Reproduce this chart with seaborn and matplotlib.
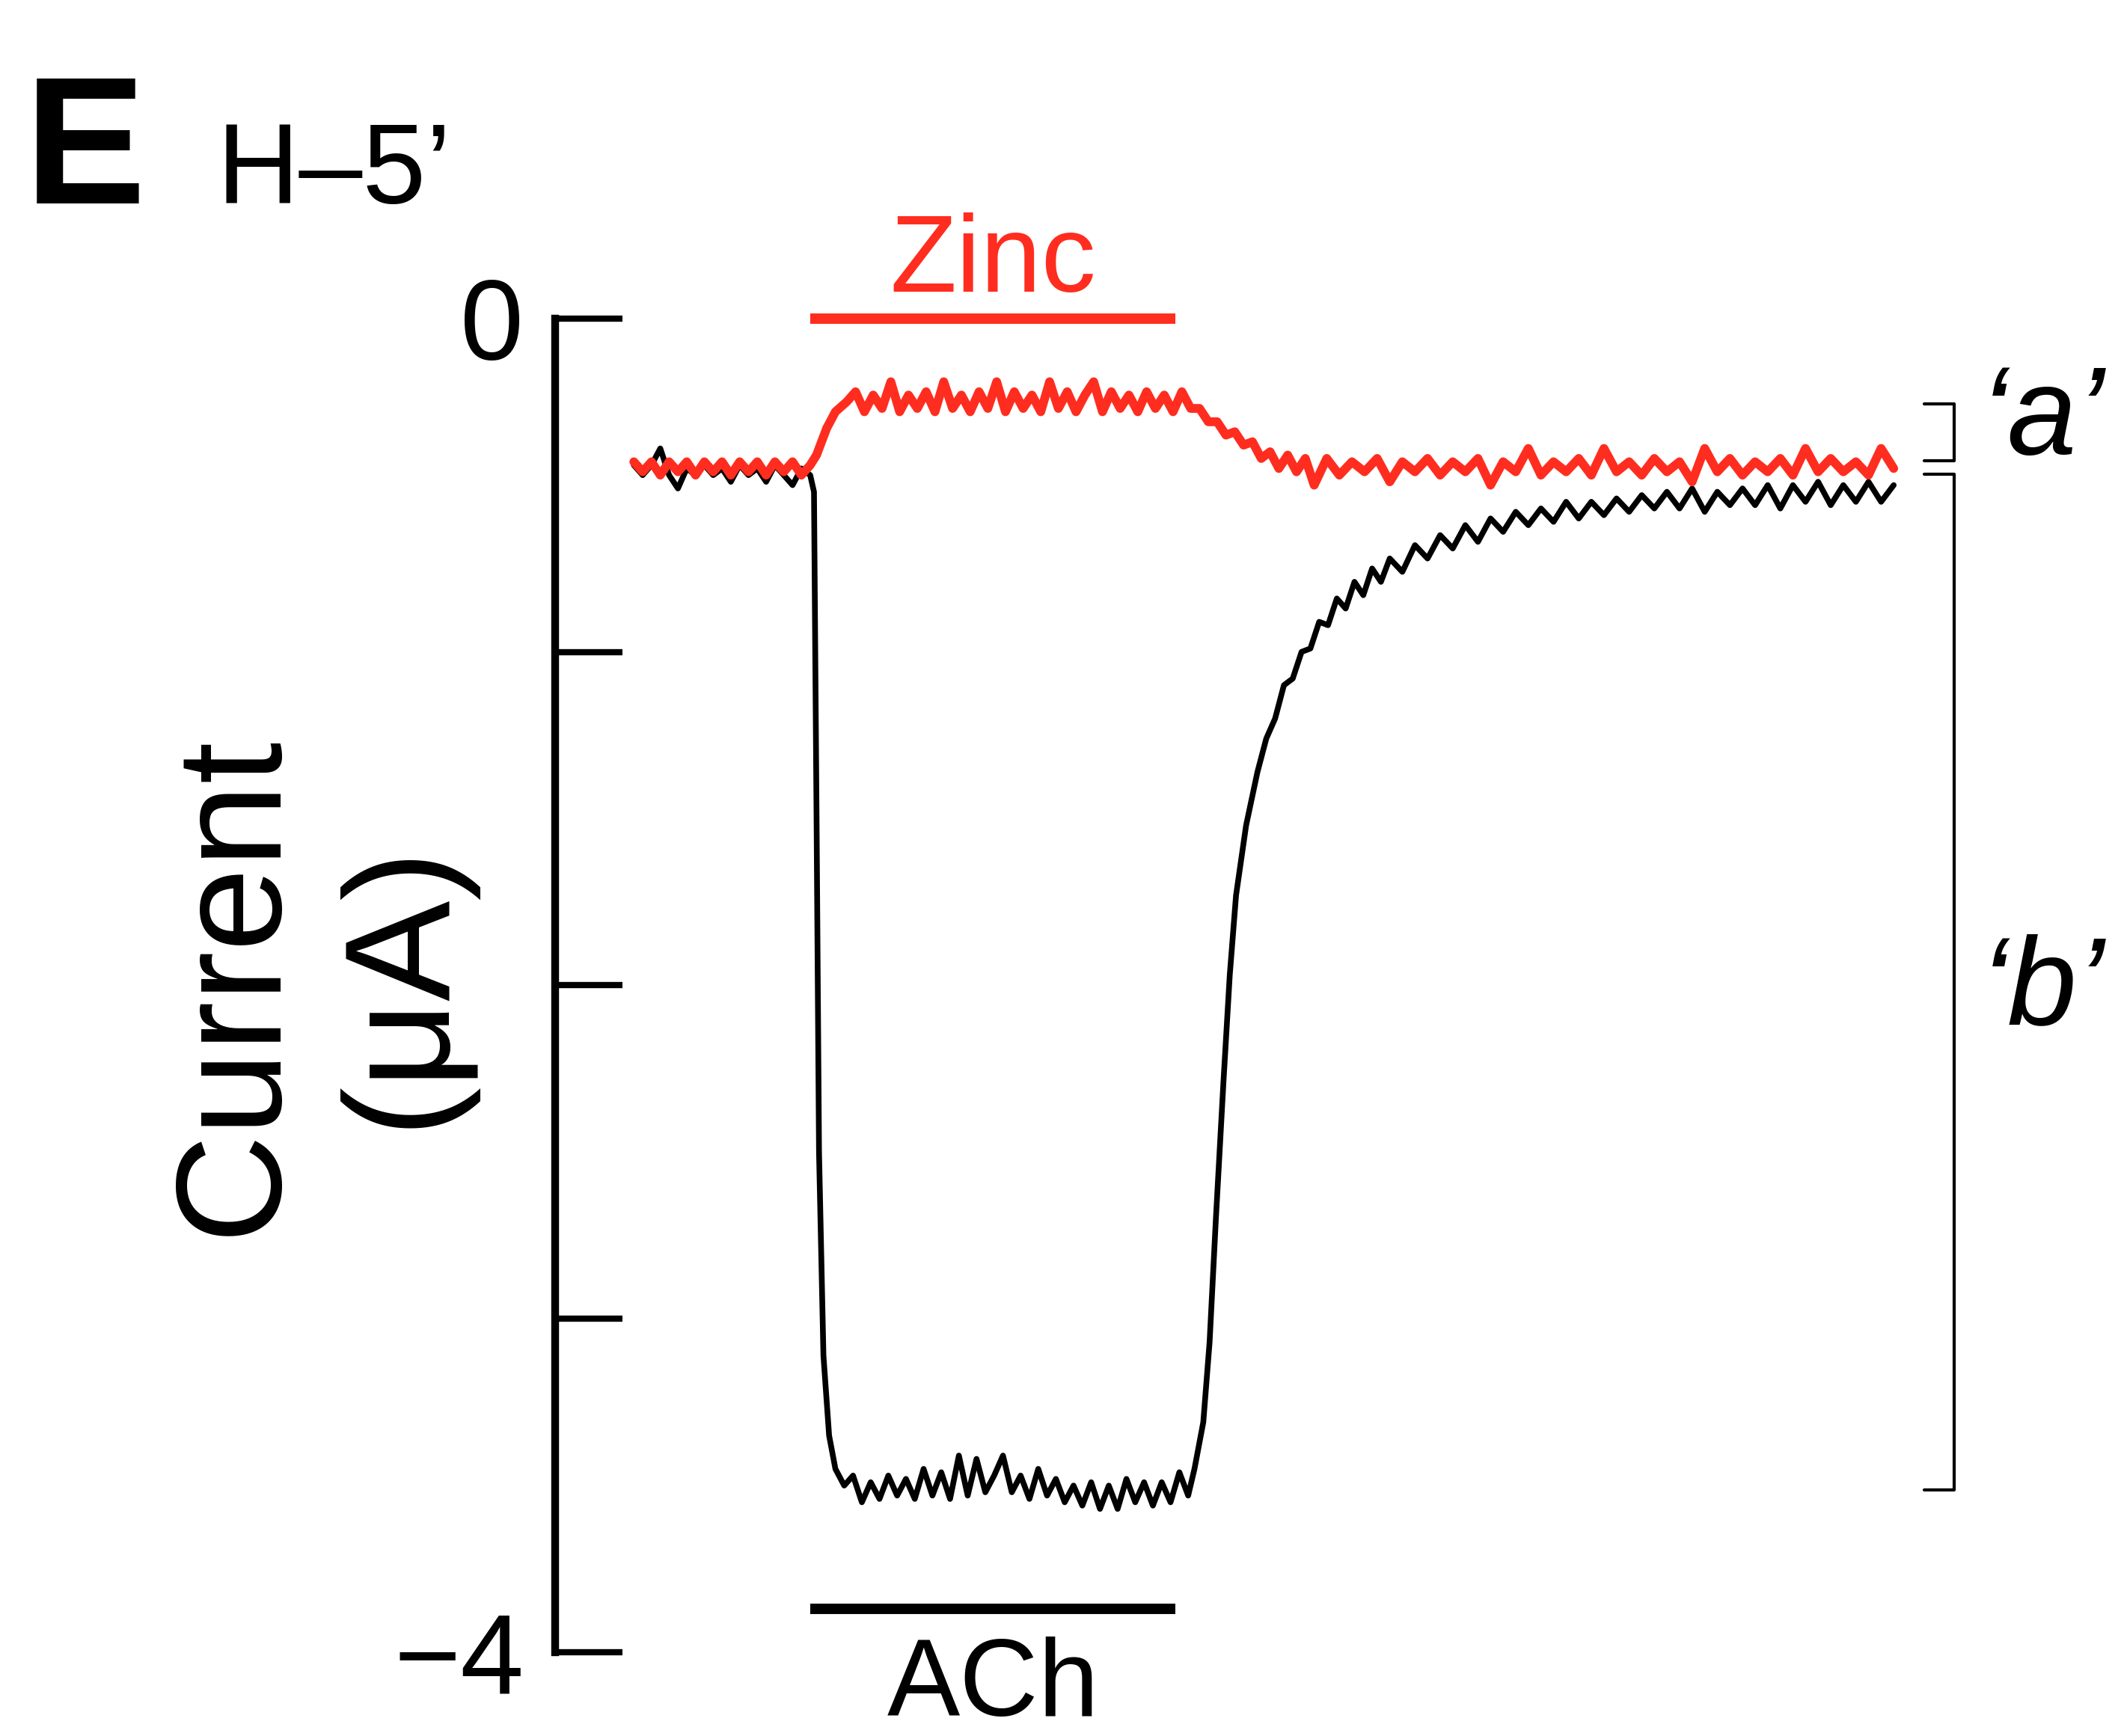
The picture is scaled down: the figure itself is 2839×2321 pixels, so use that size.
import matplotlib
matplotlib.use("Agg")
import matplotlib.pyplot as plt
import seaborn as sns

# ACh alone (black) and ACh + zinc (red), time in s, current in uA
ach_t = [0.0, 0.7, 1.4, 2.1, 2.8, 3.5, 4.2, 4.9, 5.6, 6.3, 7.0, 7.7, 8.4, 9.1, 9.8,
         10.5, 11.2, 11.9, 12.6, 13.3, 14.0,
         14.3, 14.5, 14.7, 15.05, 15.5, 16.0, 16.7,
         17.4, 18.1, 18.8, 19.5, 20.2, 20.9, 21.6, 22.3, 23.0, 23.7, 24.4, 25.1, 25.8,
         26.5, 27.2, 27.9, 28.6, 29.3, 30.0, 30.7, 31.4, 32.1, 32.8, 33.5, 34.2, 34.9,
         35.6, 36.3, 37.0, 37.7, 38.4, 39.1, 39.8, 40.5, 41.2, 41.9, 42.6, 43.3, 44.0,
         44.5, 45.2, 45.7, 46.2, 46.8, 47.3, 47.8, 48.6,
         49.5, 50.2, 50.9, 51.6, 52.3, 53.0, 53.7, 54.4, 55.1, 55.8, 56.5, 57.2, 57.9,
         58.6, 59.3, 60.0, 61, 62, 63, 64, 65, 66, 67, 68, 69, 70, 71, 72, 73, 74,
         75, 76, 77, 78, 79, 80, 81, 82, 83, 84, 85, 86, 87, 88, 89, 90, 91, 92, 93, 94,
         95, 96, 97, 98, 99, 100]
ach_i = [-0.44, -0.47, -0.44, -0.39, -0.47, -0.51, -0.45, -0.47, -0.44, -0.47, -0.45,
         -0.49, -0.44, -0.47, -0.45, -0.49, -0.44, -0.47, -0.50, -0.45, -0.47,
         -0.52, -1.48, -2.50, -3.11, -3.35, -3.45, -3.50,
         -3.47, -3.55, -3.49, -3.54, -3.47, -3.53, -3.48, -3.54, -3.45, -3.53, -3.46,
         -3.54, -3.41, -3.53, -3.42, -3.52, -3.47, -3.41, -3.52, -3.47, -3.54, -3.45,
         -3.53, -3.48, -3.55, -3.50, -3.56, -3.49, -3.57, -3.50, -3.57, -3.48, -3.55,
         -3.49, -3.56, -3.49, -3.55, -3.46, -3.53,
         -3.45, -3.31, -3.07, -2.70, -2.29, -1.97, -1.73, -1.52,
         -1.36, -1.26, -1.20, -1.10, -1.08, -1.00, -0.99, -0.91, -0.92, -0.84, -0.87,
         -0.79, -0.83, -0.75, -0.79, -0.72,
         -0.76, -0.68, -0.72, -0.65, -0.69, -0.62, -0.67, -0.60, -0.64, -0.58,
         -0.62, -0.57, -0.61, -0.55, -0.60, -0.55, -0.59, -0.54, -0.58, -0.53,
         -0.57, -0.52, -0.57, -0.51, -0.58, -0.52, -0.56, -0.51, -0.56, -0.50,
         -0.57, -0.50, -0.55, -0.49, -0.56, -0.50, -0.55, -0.49, -0.55, -0.50]

zn_t = [0.0, 0.7, 1.4, 2.1, 2.8, 3.5, 4.2, 4.9, 5.6, 6.3, 7.0, 7.7, 8.4, 9.1, 9.8,
        10.5, 11.2, 11.9, 12.6, 13.3, 14.0,
        14.5, 15.3, 16.0, 16.9,
        17.6, 18.3, 19.0, 19.7, 20.4, 21.1, 21.8, 22.5, 23.2, 23.9, 24.6, 25.3, 26.0,
        26.7, 27.4, 28.1, 28.8, 29.5, 30.2, 30.9, 31.6, 32.3, 33.0, 33.7, 34.4, 35.1,
        35.8, 36.5, 37.2, 37.9, 38.6, 39.3, 40.0, 40.7, 41.4, 42.1, 42.8, 43.5,
        44.2, 44.9, 45.6, 46.3, 47.0, 47.7, 48.4, 49.1, 49.8, 50.5, 51.2, 51.9, 52.6,
        53.3, 54.0, 55, 56, 57, 58, 59, 60, 61, 62, 63, 64, 65, 66, 67, 68, 69, 70, 71,
        72, 73, 74, 75, 76, 77, 78, 79, 80, 81, 82, 83, 84, 85, 86, 87, 88, 89, 90, 91,
        92, 93, 94, 95, 96, 97, 98, 99, 100]
zn_i = [-0.43, -0.46, -0.43, -0.47, -0.43, -0.46, -0.43, -0.47, -0.43, -0.46, -0.43,
        -0.47, -0.43, -0.46, -0.43, -0.47, -0.43, -0.46, -0.43, -0.47, -0.44,
        -0.41, -0.33, -0.28, -0.25,
        -0.22, -0.28, -0.23, -0.27, -0.19, -0.28, -0.23, -0.27, -0.22, -0.28, -0.19,
        -0.27, -0.23, -0.28, -0.22, -0.27, -0.19, -0.28, -0.22, -0.27, -0.23, -0.28,
        -0.19, -0.27, -0.22, -0.28, -0.23, -0.19, -0.28, -0.22, -0.27, -0.23, -0.28,
        -0.22, -0.27, -0.23, -0.28, -0.22,
        -0.27, -0.27, -0.31, -0.31, -0.35, -0.34, -0.38, -0.37, -0.42, -0.40, -0.45,
        -0.41, -0.46, -0.42, -0.50, -0.42, -0.47, -0.43, -0.46, -0.42, -0.49, -0.43,
        -0.46, -0.42, -0.47, -0.43, -0.46, -0.42, -0.50, -0.43, -0.46, -0.39, -0.47,
        -0.43, -0.46, -0.42, -0.47, -0.39, -0.46, -0.43, -0.47, -0.42, -0.46, -0.43,
        -0.49, -0.39, -0.46, -0.42, -0.47, -0.43, -0.46, -0.42, -0.47, -0.39, -0.46,
        -0.42, -0.46, -0.43, -0.47, -0.39, -0.45]

drug_on, drug_off = 14.0, 43.0
zinc_bar_i, ach_bar_i = 0.0, -3.87
bracket_a = (-0.256, -0.426)
bracket_b = (-0.467, -3.513)
ytick_vals = [0, -1, -2, -3, -4]
ytick_text = ["0", "", "", "", "\u22124"]

sns.set_theme(style="white")
plt.rcParams["font.family"] = ["Liberation Sans", "DejaVu Sans"]
plt.rcParams["text.color"] = "black"
plt.rcParams["ytick.color"] = "black"
plt.rcParams["ytick.labelcolor"] = "black"

fig = plt.figure(figsize=(28.39, 23.21), dpi=100)
ax = fig.add_axes([0.2614, 0.0482, 0.7386, 0.7684])

red = "#ff2d1f"
sns.lineplot(x=ach_t, y=ach_i, ax=ax, color="black", linewidth=5.5,
             estimator=None, sort=False)
sns.lineplot(x=zn_t, y=zn_i, ax=ax, color=red, linewidth=8.5,
             estimator=None, sort=False)

ax.set_xlim(-6.24, 118.28)
ax.set_ylim(-4, 0)
for s in ["top", "right", "bottom"]:
    ax.spines[s].set_visible(False)
ax.spines["left"].set_linewidth(7.5)
ax.spines["left"].set_color("black")
ax.set_xticks([])
ax.set_yticks(ytick_vals)
ax.set_yticklabels(ytick_text)
ax.tick_params(axis="y", direction="in", length=65, width=6, pad=30,
               labelsize=110, color="black", labelcolor="black", left=True)
ax.set_xlabel("")
ax.set_ylabel("")

# application bars
ax.plot([drug_on, drug_off], [zinc_bar_i] * 2, color=red, lw=10,
        solid_capstyle="butt", clip_on=False)
ax.plot([drug_on, drug_off], [ach_bar_i] * 2, color="black", lw=10,
        solid_capstyle="butt", clip_on=False)
mid = (drug_on + drug_off) / 2
ax.text(mid, 0.08, "Zinc", color=red, fontsize=105, ha="center",
        va="baseline", clip_on=False)
ax.text(mid, -4.19, "ACh", color="black", fontsize=105, ha="center",
        va="baseline", clip_on=False)

# brackets
bx0, bx1 = 102.4, 104.8
for lo_hi in (bracket_a, bracket_b):
    ax.plot([bx0, bx1, bx1, bx0], [lo_hi[0], lo_hi[0], lo_hi[1], lo_hi[1]],
            color="black", lw=3, clip_on=False)
ax.text(111.8, -0.31, "\u2018a\u2019", fontsize=120, style="italic",
        ha="center", va="center", color="black", clip_on=False)
ax.text(111.8, -2.02, "\u2018b\u2019", fontsize=120, style="italic",
        ha="center", va="center", color="black", clip_on=False)

fig.text(0.0116, 0.8828, "E", fontsize=175, fontweight="bold", va="baseline",
         color="black")
fig.text(0.1021, 0.8828, "H\u20135\u2019", fontsize=110, va="baseline",
         color="black")
fig.text(0.1499, 0.4329, "Current\n(\u03bcA)", fontsize=145, rotation=90,
         ha="center", va="center", multialignment="center", linespacing=1.25,
         color="black")

fig.savefig("out.png", dpi=100)
